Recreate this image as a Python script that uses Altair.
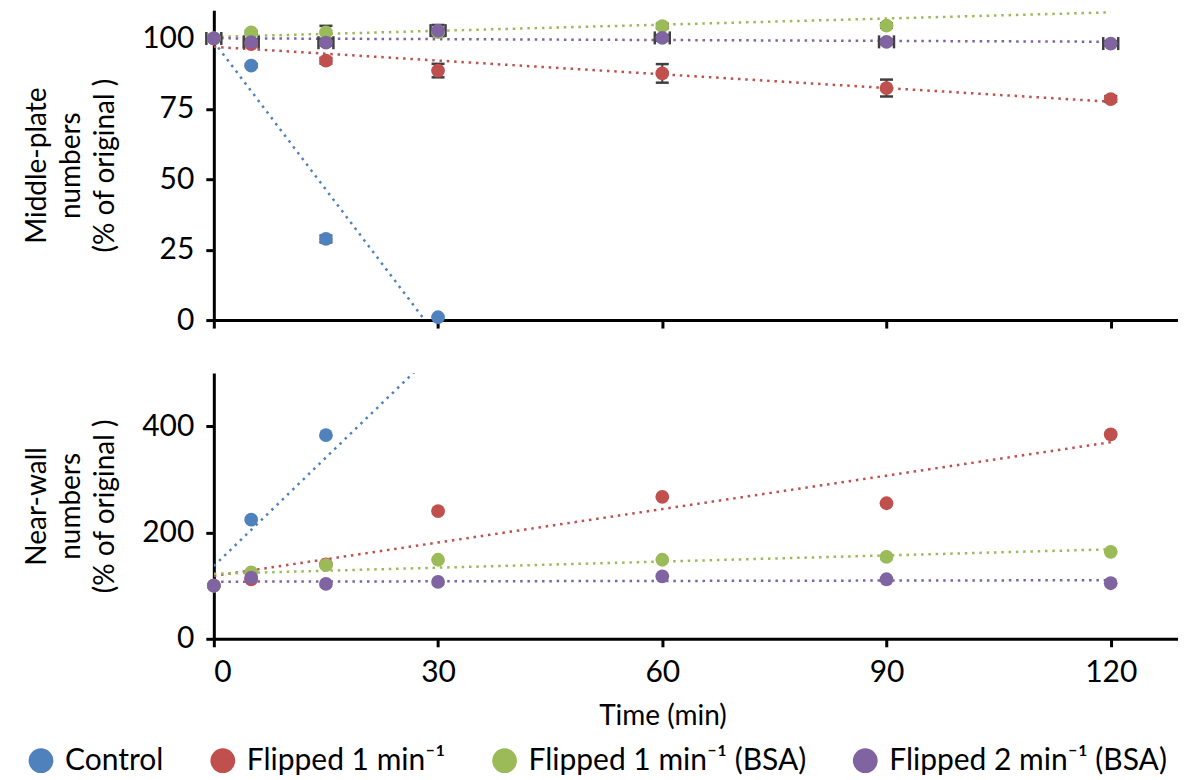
import altair as alt
import pandas as pd

# ---------------- data ----------------
series_names = ["Control", "Flipped 1 min⁻¹", "Flipped 1 min⁻¹ (BSA)", "Flipped 2 min⁻¹ (BSA)"]
series_colors = ["#4F81BD", "#C0504D", "#9BBB59", "#8064A2"]

times = [0, 5, 15, 30, 60, 90, 120]
control_times = [0, 5, 15, 30]

# Middle-plate numbers (% of original)
mid_control = [100, 90.4, 28.8, 1.0]
mid_flip1 = [100, 98.0, 92.1, 88.6, 87.6, 82.4, 78.5]
mid_flip1_bsa = [100, 102.2, 102.2, 102.3, 104.4, 104.6, 111.4]
mid_flip2_bsa = [100, 98.7, 98.5, 102.8, 100.2, 98.8, 98.2]

# error bars (y) and (x) for middle-plate numbers
mid_control_err = [0.0, 0.5, 1.2, 0.0]
mid_flip1_err = [0.0, 0.5, 1.0, 2.4, 3.3, 3.0, 1.0]
mid_flip1_bsa_err = [0.0, 0.5, 2.3, 1.0, 0.8, 0.8, 0.0]
mid_flip2_bsa_err = [0.5, 1.0, 1.0, 2.0, 1.0, 0.8, 0.8]
mid_flip2_bsa_xerr = [1.0, 1.0, 1.0, 1.0, 1.0, 1.0, 1.0]

# Near-wall numbers (% of original)
wall_control = [100, 224, 383, 521]
wall_flip1 = [100, 112, 140, 240, 267, 255, 384.5]
wall_flip1_bsa = [100, 125, 138.7, 148.7, 148.7, 154, 163.7]
wall_flip2_bsa = [100, 115, 103.3, 107, 117.6, 112, 104.5]


def build(ctrl, f1, f1b, f2b, errs=None, xerrs=None):
    rows = []
    sets = [(series_names[0], control_times, ctrl),
            (series_names[1], times, f1),
            (series_names[2], times, f1b),
            (series_names[3], times, f2b)]
    for k, (name, ts, vals) in enumerate(sets):
        for i, (t, v) in enumerate(zip(ts, vals)):
            e = errs[k][i] if errs else 0.0
            xe = xerrs[k][i] if (xerrs and xerrs[k]) else 0.0
            rows.append({"series": name, "t": t, "v": v,
                         "lo": v - e, "hi": v + e, "err": e,
                         "tlo": t - xe, "thi": t + xe, "xerr": xe})
    return pd.DataFrame(rows)


mid_df = build(mid_control, mid_flip1, mid_flip1_bsa, mid_flip2_bsa,
               errs=[mid_control_err, mid_flip1_err, mid_flip1_bsa_err, mid_flip2_bsa_err],
               xerrs=[None, None, None, mid_flip2_bsa_xerr])
wall_df = build(wall_control, wall_flip1, wall_flip1_bsa, wall_flip2_bsa)

FONT = "Lato"
FS = 30
W = 965
X_DOMAIN = [0, 129]
x_ticks = [0, 30, 60, 90, 120]

color_scale = alt.Scale(domain=series_names, range=series_colors)
legend = alt.Legend(title=None, orient="none", direction="horizontal",
                    legendX=-188, legendY=736, symbolType="circle", symbolSize=616,
                    symbolStrokeWidth=0, symbolOpacity=1, labelFontSize=FS,
                    labelFont=FONT, labelColor="#000", labelLimit=600,
                    labelOffset=9, columnPadding=44, padding=0)

err_col = "#404040"


def panel(df, ymax, yticks, ytitle, height, show_x_labels, with_err):
    xs = alt.Scale(domain=X_DOMAIN, nice=False, zero=False)
    ys = alt.Scale(domain=[0, ymax], nice=False)
    x_axis = alt.Axis(values=x_ticks, labels=show_x_labels,
                      title="Time (min)" if show_x_labels else None,
                      titleX=449, titlePadding=15, labelPadding=11)
    y_axis = alt.Axis(values=yticks, title=ytitle, titlePadding=22, labelPadding=12,
                      titleLineHeight=34)
    base = alt.Chart(df)
    layers = []
    for name, col in zip(series_names, series_colors):
        trend = base.transform_filter(
            alt.datum.series == name
        ).transform_regression(
            "t", "v", extent=[0, 120]
        ).mark_line(clip=True, strokeDash=[2.5, 4.8], strokeWidth=2.5, color=col).encode(
            x=alt.X("t:Q", scale=xs, axis=x_axis),
            y=alt.Y("v:Q", scale=ys, axis=y_axis),
        )
        layers.append(trend)
    if with_err:
        ebase = base.transform_filter("datum.err > 0 && datum.v <= %f" % ymax)
        stems = ebase.mark_rule(color=err_col, strokeWidth=2).encode(
            x="t:Q", y="lo:Q", y2="hi:Q")
        cap_lo = ebase.mark_tick(orient="horizontal", color=err_col, size=13,
                                 thickness=2.5, opacity=1).encode(x="t:Q", y="lo:Q")
        cap_hi = ebase.mark_tick(orient="horizontal", color=err_col, size=13,
                                 thickness=2.5, opacity=1).encode(x="t:Q", y="hi:Q")
        xbase = base.transform_filter("datum.xerr > 0")
        xstems = xbase.mark_rule(color=err_col, strokeWidth=2).encode(
            x="tlo:Q", x2="thi:Q", y="v:Q")
        xcap_lo = xbase.mark_tick(orient="vertical", color=err_col, size=13,
                                  thickness=2.5, opacity=1).encode(x="tlo:Q", y="v:Q")
        xcap_hi = xbase.mark_tick(orient="vertical", color=err_col, size=13,
                                  thickness=2.5, opacity=1).encode(x="thi:Q", y="v:Q")
        layers += [stems, cap_lo, cap_hi, xstems, xcap_lo, xcap_hi]
    pts = base.transform_filter("datum.v <= %f" % ymax).mark_circle(
        size=190, opacity=1).encode(
        x="t:Q", y="v:Q",
        color=alt.Color("series:N", scale=color_scale, legend=legend),
    )
    layers.append(pts)
    return alt.layer(*layers).properties(width=W, height=height)


top = panel(mid_df, 110, [0, 25, 50, 75, 100],
            ["Middle-plate", "numbers", "(% of original )"], 310, False, True)
bottom = panel(wall_df, 500, [0, 200, 400],
               ["Near-wall", "numbers", "(% of original )"], 266, True, False)

chart = alt.vconcat(top, bottom, spacing=38).properties(
    padding={"left": 15, "top": 2, "right": 0, "bottom": 0},
    background="white",
).configure_view(stroke=None).configure_axis(
    domainColor="#000", domainWidth=3, tickColor="#000", tickWidth=3, tickSize=8,
    labelFont=FONT, labelFontSize=FS, labelColor="#000",
    titleFont=FONT, titleFontSize=FS - 2, titleFontWeight="normal", titleColor="#000",
    grid=False,
)

chart.save("out.html", embed_options={"renderer": "svg", "actions": False})
